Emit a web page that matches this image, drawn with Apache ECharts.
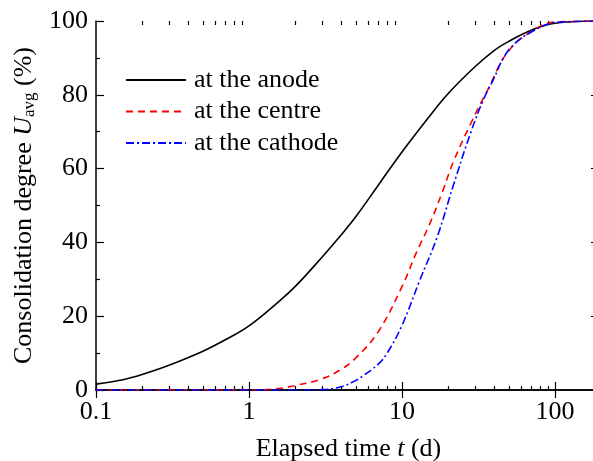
<!DOCTYPE html>
<html>
<head>
<meta charset="utf-8">
<script src="https://cdn.jsdelivr.net/npm/echarts@6/dist/echarts.min.js"></script>
<style>
  html, body { margin: 0; padding: 0; background: #fff; }
  #chart { width: 593px; height: 461px; }
</style>
</head>
<body>
<div id="chart"></div>
<script>
const FONT = '"Liberation Serif", "Times New Roman", serif';

// elapsed time t (d) and consolidation degree (%)
const anodeT = [0.1, 0.15, 0.2, 0.3, 0.5, 0.7, 1, 1.5, 2, 3, 4, 5, 7, 10, 15, 20, 30, 40, 50, 70, 100, 200];
const anodeU = [1.6, 2.8, 4.2, 6.7, 10.5, 13.6, 17.4, 23.3, 28, 36, 42, 47, 55.5, 64.5, 74, 80.3, 87.6, 92, 94.5, 97.5, 99.4, 100];

const centreT = [0.1, 1, 1.5, 2, 3, 4, 5, 7, 10, 12.5, 15, 18.5, 21.5, 28, 36, 50, 76, 100, 200];
const centreU = [0, 0, 0.3, 1.2, 3, 5.6, 8.7, 15.8, 28, 37.5, 44.5, 54, 61.5, 72, 81, 92, 98, 99.7, 100];

const cathodeT = [0.1, 2, 3, 4, 5, 5.5, 7, 8, 10, 13, 17, 21.5, 28, 34, 40, 46, 55, 70, 100, 200];
const cathodeU = [0, 0, 0.1, 0.9, 2.6, 3.7, 7, 10, 17.5, 29.5, 41.5, 55, 69.5, 78.6, 84.5, 90, 94, 97, 99.6, 100];

const majorTicks = [0.1, 1, 10, 100];
const minorTicks = [0.2, 0.3, 0.4, 0.5, 0.6, 0.7, 0.8, 0.9,
  2, 3, 4, 5, 6, 7, 8, 9, 20, 30, 40, 50, 60, 70, 80, 90, 200];

const pairs = (xs, ys) => xs.map((x, i) => [x, ys[i]]);

const chart = echarts.init(document.getElementById('chart'));

function xAxisDef(pos, ticks, len, showLine, showLabel) {
  return {
    type: 'log',
    logBase: 10,
    min: 0.1,
    max: 200,
    position: pos,
    axisLine: { show: showLine, lineStyle: { color: '#000', width: 1.5 } },
    axisTick: { show: true, inside: true, length: len, customValues: ticks, lineStyle: { color: '#000', width: 1.2 } },
    axisLabel: { show: showLabel, customValues: ticks, margin: 9, color: '#000', fontFamily: FONT, fontSize: 26 },
    splitLine: { show: false }
  };
}

chart.setOption({
  animation: false,
  backgroundColor: '#fff',
  grid: { left: 96, top: 21, width: 505, bottom: 71, containLabel: false, outerBoundsMode: 'none' },
  legend: {
    orient: 'vertical',
    left: 125,
    top: 67,
    padding: 0,
    itemWidth: 60,
    itemHeight: 14,
    itemGap: 5.5,
    itemStyle: { opacity: 0 },
    textStyle: { color: '#000', fontFamily: FONT, fontSize: 26, padding: [0, 0, 0, 3] },
    data: ['at the anode', 'at the centre', 'at the cathode']
  },
  xAxis: [
    Object.assign(xAxisDef('bottom', majorTicks, 8, true, true), {
      name: 'Elapsed time {i|t} (d)',
      nameLocation: 'middle',
      nameGap: 46,
      nameTextStyle: {
        color: '#000', fontFamily: FONT, fontSize: 26,
        rich: { i: { fontFamily: FONT, fontSize: 26, fontStyle: 'italic', color: '#000' } }
      }
    }),
    xAxisDef('top', majorTicks, 8, true, false),
    xAxisDef('bottom', minorTicks, 4, false, false),
    xAxisDef('top', minorTicks, 4, false, false)
  ],
  yAxis: [
    {
      type: 'value',
      min: 0,
      max: 100,
      interval: 20,
      position: 'left',
      name: 'Consolidation degree {u|U}{s|avg} (%)',
      nameLocation: 'middle',
      nameGap: 58,
      nameTextStyle: {
        color: '#000', fontFamily: FONT, fontSize: 26,
        rich: {
          u: { fontFamily: FONT, fontSize: 26, fontStyle: 'italic', color: '#000' },
          s: { fontFamily: FONT, fontSize: 17, color: '#000', padding: [10, 0, 0, 0] }
        }
      },
      axisLine: { show: true, lineStyle: { color: '#000', width: 1.5 } },
      axisTick: { inside: true, length: 8, lineStyle: { color: '#000', width: 1.2 } },
      minorTick: { show: true, splitNumber: 2, length: 4, lineStyle: { color: '#000', width: 1.2 } },
      axisLabel: { margin: 8, color: '#000', fontFamily: FONT, fontSize: 26 },
      splitLine: { show: false },
      minorSplitLine: { show: false }
    },
    {
      type: 'value',
      min: 0,
      max: 100,
      interval: 20,
      position: 'right',
      axisLine: { show: true, lineStyle: { color: '#000', width: 1.5 } },
      axisTick: { inside: true, length: 10, lineStyle: { color: '#000', width: 1.2 } },
      axisLabel: { show: false },
      splitLine: { show: false }
    }
  ],
  series: [
    {
      name: 'at the anode',
      type: 'line',
      data: pairs(anodeT, anodeU),
      smooth: 0.4,
      symbol: 'none',
      color: '#000',
      lineStyle: { color: '#000', width: 1.6, type: 'solid' }
    },
    {
      name: 'at the centre',
      type: 'line',
      data: pairs(centreT, centreU),
      smooth: 0.4,
      symbol: 'none',
      color: '#ff0000',
      lineStyle: { color: '#ff0000', width: 1.6, type: [7, 5] }
    },
    {
      name: 'at the cathode',
      type: 'line',
      data: pairs(cathodeT, cathodeU),
      smooth: 0.4,
      symbol: 'none',
      color: '#0000ff',
      lineStyle: { color: '#0000ff', width: 1.6, type: [8, 3, 2, 3] }
    }
  ]
});
</script>
</body>
</html>
